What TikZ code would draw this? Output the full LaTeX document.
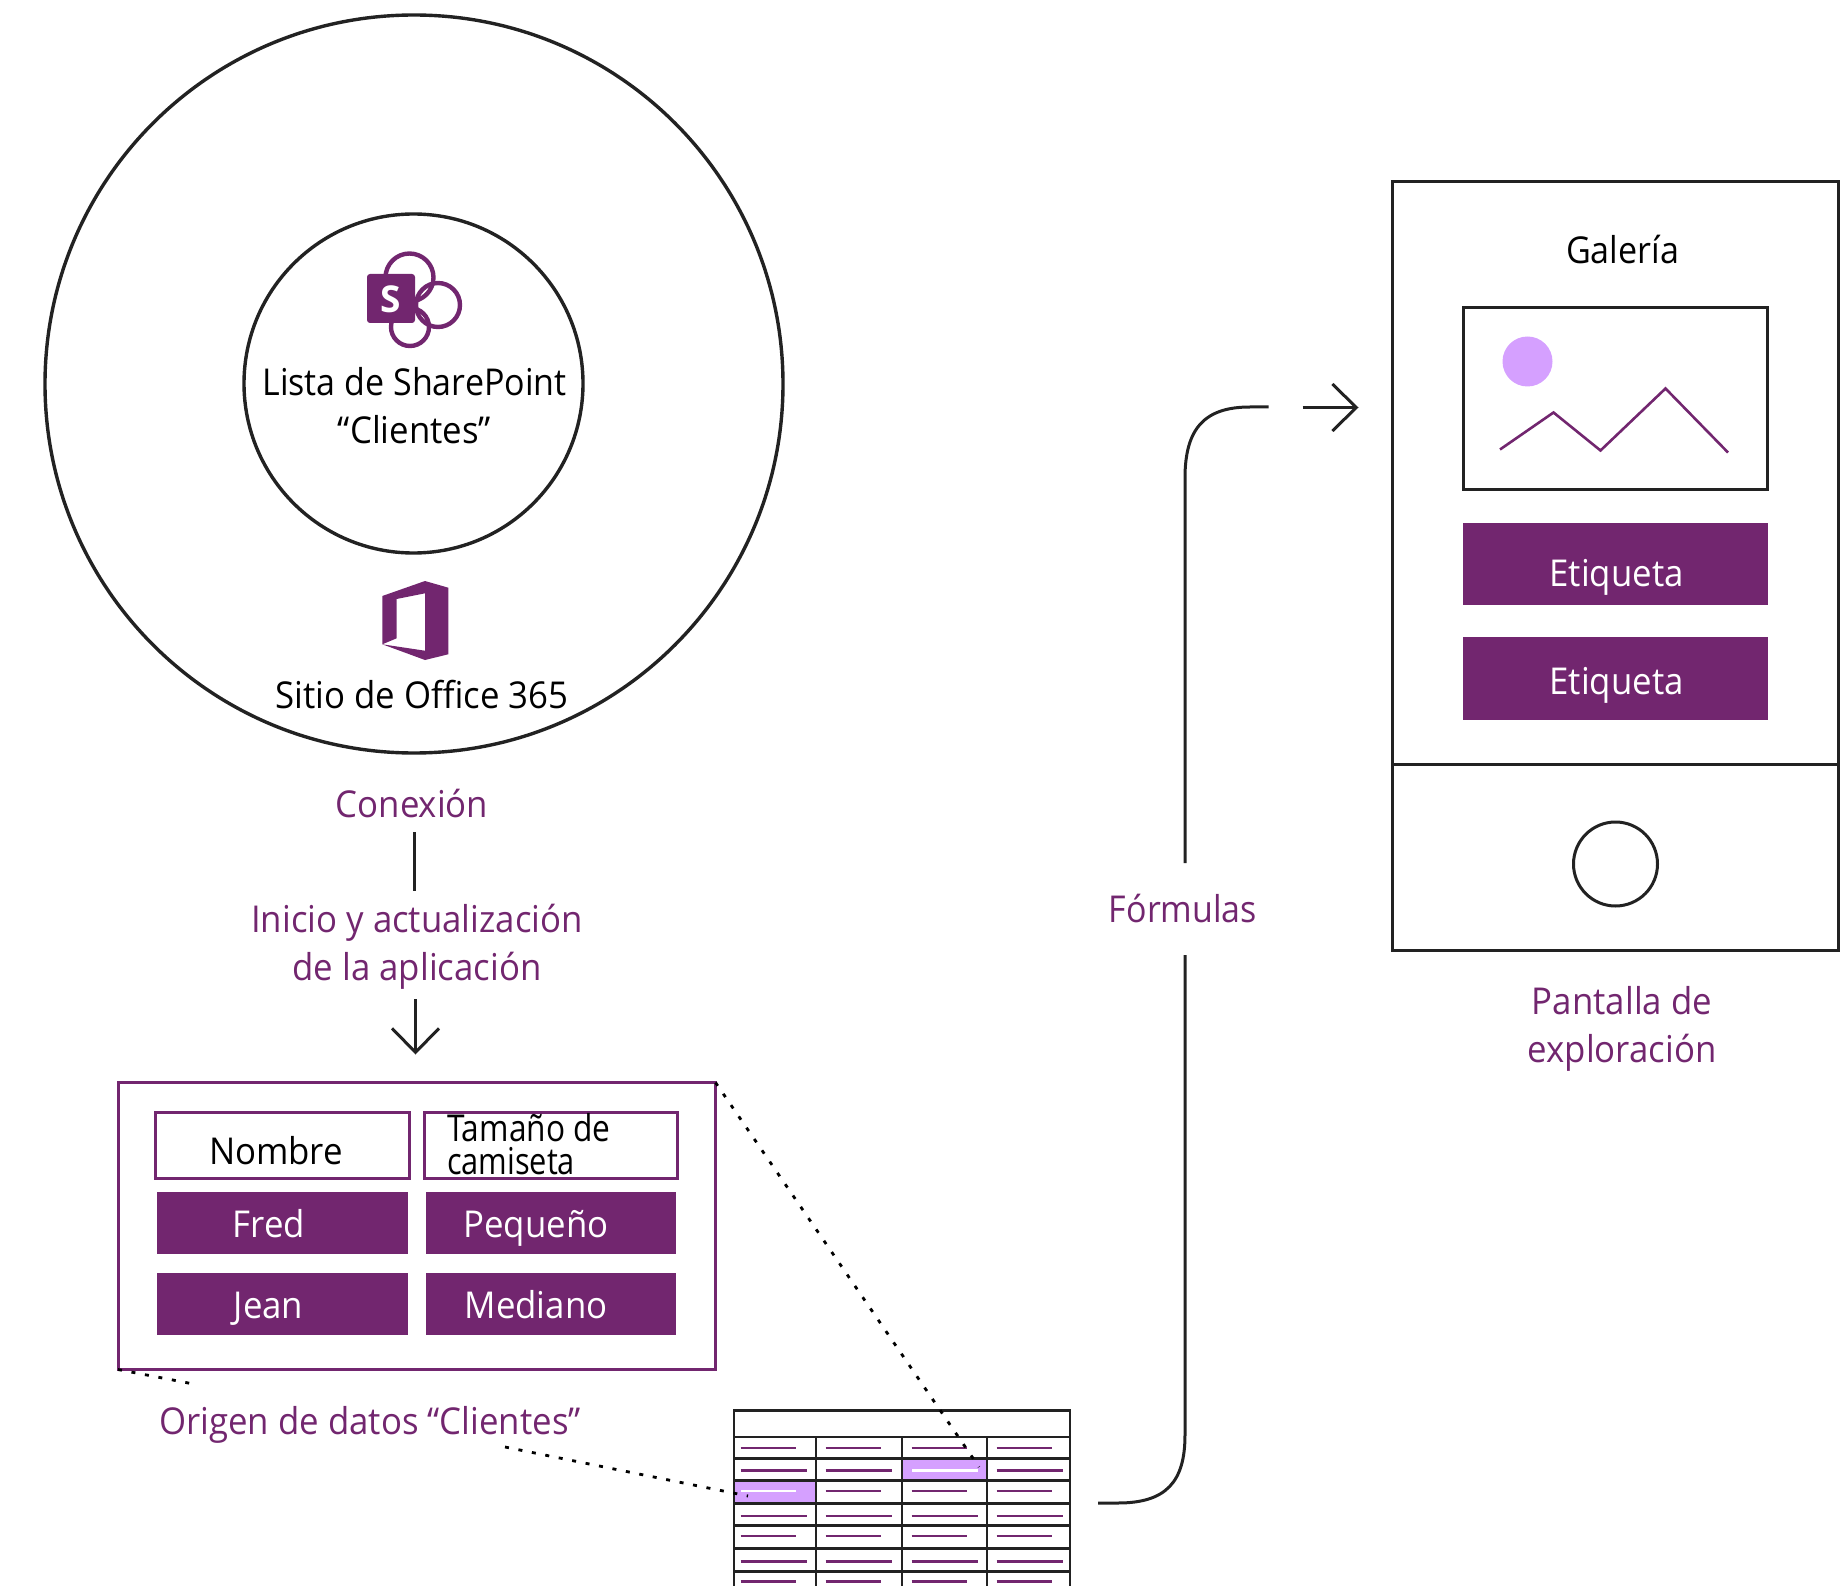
\documentclass[tikz,border=0pt]{standalone}
\usepackage{fontspec}
\setmainfont{Open Sans}
\usetikzlibrary{arrows.meta}
\definecolor{plum}{HTML}{72266F}
\definecolor{lilac}{HTML}{D5A0FF}
\definecolor{ink}{HTML}{222222}
\tikzset{
  x=1pt,y=-1pt,
  txt/.style={anchor=base,inner sep=0pt,outer sep=0pt,font=\fontsize{37}{44}\selectfont,xscale=.94,transform shape,text=black},
  ptxt/.style={txt,text=plum},
  wtxt/.style={txt,text=white},
  ring/.style={circle,draw=ink,line width=3.4pt,inner sep=0pt,outer sep=0pt},
  boxp/.style={rectangle,draw=plum,line width=3pt,inner sep=0pt,outer sep=0pt},
  boxk/.style={rectangle,draw=ink,line width=3pt,inner sep=0pt,outer sep=0pt},
  fillp/.style={rectangle,fill=plum,inner sep=0pt,outer sep=0pt},
  filll/.style={rectangle,fill=lilac,inner sep=0pt,outer sep=0pt},
  conn/.style={draw=ink,line width=3pt},
  arrowv/.style={conn,-{Straight Barb[length=24pt,width=47pt,line width=3pt]}},
  dots/.style={draw=black,line width=2.8pt,dash pattern=on 4pt off 9.7pt},
  grid/.style={draw=ink,line width=2.4pt},
  dp/.style={draw=plum,line width=2.2pt},
  dw/.style={draw=white,line width=2.2pt}
}
\newcommand{\bx}[6]{%
  \pgfmathsetmacro{\bw}{#5-#3}\pgfmathsetmacro{\bh}{#6-#4}%
  \pgfmathsetmacro{\bcx}{(#3+#5)/2}\pgfmathsetmacro{\bcy}{(#4+#6)/2}%
  \node[#1,minimum width=\bw pt,minimum height=\bh pt] (#2) at (\bcx,\bcy) {};}
\begin{document}
\begin{tikzpicture}
\useasboundingbox (0,0) rectangle (1840,1586);
% circles
\node[ring,minimum size=738pt] (site) at (414,384) {};
\node[ring,minimum size=339pt] (list) at (413.5,383.5) {};
% SharePoint icon
\draw[plum,line width=4.4pt] (409.5,277.5) circle (24);
\draw[plum,line width=4.4pt] (438,305) circle (22);
\draw[plum,line width=4.4pt] (410,327) circle (19);
\fill[plum,rounded corners=3pt] (367,274) rectangle (415,323);
\node[anchor=base,inner sep=0pt,text=white,font=\fontsize{37}{40}\selectfont\bfseries] (spS) at (390.5,313) {S};
% Office icon
\fill[plum,even odd rule] (382.3,596) -- (425,581) -- (448.3,587.7) -- (448.3,654.3) -- (425,660) -- (382.3,644.3) -- (425,650.7) -- (425,593.3) -- (396.7,599) -- (396.7,638.3) -- (382.3,644.3) -- cycle;
\node[txt,xscale=.977] (t1) at (414.5,396) {Lista de SharePoint};
\node[txt] (t2) at (414.5,443.5) {“Clientes”};
\node[txt] (t3) at (422,708) {Sitio de Office 365};
\node[ptxt] (t4) at (412,817) {Conexión};
\node[ptxt] (t5) at (417,932.5) {Inicio y actualización};
\node[ptxt] (t6) at (417,980.5) {de la aplicación};
\coordinate (c1) at (414,832);
\coordinate (c2) at (414,891);
\coordinate (c3) at (415.5,999);
\coordinate (c4) at (415.5,1054.5);
\draw[conn] (c1) -- (c2);
\draw[arrowv] (c3) -- (c4);
% data source
\bx{boxp}{ds}{118}{1082.5}{715.5}{1369.5}
\bx{boxp}{h1}{155.5}{1112.5}{409}{1178}
\bx{boxp}{h2}{424}{1112.5}{677.5}{1178}
\bx{fillp}{r1a}{157}{1191.5}{407.5}{1253.5}
\bx{fillp}{r1b}{426}{1191.5}{676}{1253.5}
\bx{fillp}{r2a}{157}{1272.5}{407.5}{1334.5}
\bx{fillp}{r2b}{426}{1272.5}{676}{1334.5}
\node[txt] (n1) at (276,1164) {Nombre};
\node[txt,anchor=base west,xscale=.91] (n2) at (447,1141.5) {Tamaño de};
\node[txt,anchor=base west,xscale=.885] (n3) at (447,1174) {camiseta};
\node[wtxt] (n4) at (269,1237) {Fred};
\node[wtxt] (n5) at (536,1237) {Pequeño};
\node[wtxt] (n6) at (268.5,1318.5) {Jean};
\node[wtxt] (n7) at (536,1318.5) {Mediano};
\node[ptxt] (n8) at (370,1434) {Origen de datos “Clientes”};
% table
\bx{filll}{hl1}{902}{1458.5}{987}{1480.5}
\bx{filll}{hl2}{734}{1480.5}{816}{1503.5}
\draw[grid] (734,1586) -- (734,1410.5) -- (1070,1410.5) -- (1070,1586);
\foreach \y in {1437,1458.5,1480.5,1503.5,1525.5,1548.5,1571.5} \draw[grid] (734,\y) -- (1070,\y);
\foreach \x in {816,902,987} \draw[grid] (\x,1437) -- (\x,1586);
\foreach \y/\k in {1448/0,1470.5/1,1491/0,1516/1,1536/0,1561.5/1,1581.5/0}{
  \foreach \x in {740.5,825.5,911.5,996.5}{
    \pgfmathsetmacro{\xe}{\x+(\k==1?66:55.5)}
    \draw[dp] (\x,\y) -- (\xe,\y);
  }
}
\draw[dw] (911.5,1470.5) -- (977.5,1470.5);
\draw[dw] (740.5,1491) -- (796,1491);
% dotted
\coordinate (d1) at (979,1467);
\coordinate (d2) at (191,1383.5);
\coordinate (d3) at (505,1447);
\coordinate (d4) at (748,1496);
\draw[dots] (ds.north east) -- (d1);
\draw[dots] (ds.south west) -- (d2);
\draw[dots] (d3) -- (d4);
% connector
\node[ptxt,xscale=.977] (fo) at (1183,922) {Fórmulas};
\coordinate (e1) at (1098,1503);
\coordinate (e2) at (1185,955);
\coordinate (e3) at (1185,863);
\coordinate (e4) at (1268.5,407);
\coordinate (e5) at (1302.5,407.5);
\coordinate (e6) at (1358.5,407.5);
\draw[conn] (e1) -- (1118,1503) .. controls (1166,1503) and (1185,1482) .. (1185,1435) -- (e2);
\draw[conn] (e3) -- (1185,478) .. controls (1185,428) and (1205,407) .. (1250,407) -- (e4);
\draw[arrowv] (e5) -- (e6);
% phone
\bx{boxk}{ph}{1392.5}{181.5}{1838.5}{950.5}
\coordinate (p1) at (1392.5,764.5);
\coordinate (p2) at (1838.5,764.5);
\draw[conn] (p1) -- (p2);
\node[ring,minimum size=84pt,line width=3pt] (btn) at (1615.5,864) {};
\node[txt,xscale=.98] (g) at (1622.5,264) {Galería};
\bx{boxk}{img}{1463}{307.5}{1767.5}{489}
\node[circle,fill=lilac,inner sep=0pt,minimum size=50pt] (sun) at (1527.5,361.5) {};
\draw[plum,line width=2.6pt] (1500,449.5) -- (1553.5,412.5) -- (1600.5,450.5) -- (1665.5,388.5) -- (1728,452.5);
\bx{fillp}{e1b}{1463}{522.5}{1768}{605}
\bx{fillp}{e2b}{1463}{637}{1768}{720}
\node[wtxt] (et1) at (1616.5,586) {Etiqueta};
\node[wtxt] (et2) at (1616.5,694.5) {Etiqueta};
\node[ptxt] (pa) at (1622,1014) {Pantalla de};
\node[ptxt] (pb) at (1622,1062) {exploración};
\end{tikzpicture}
\end{document}
